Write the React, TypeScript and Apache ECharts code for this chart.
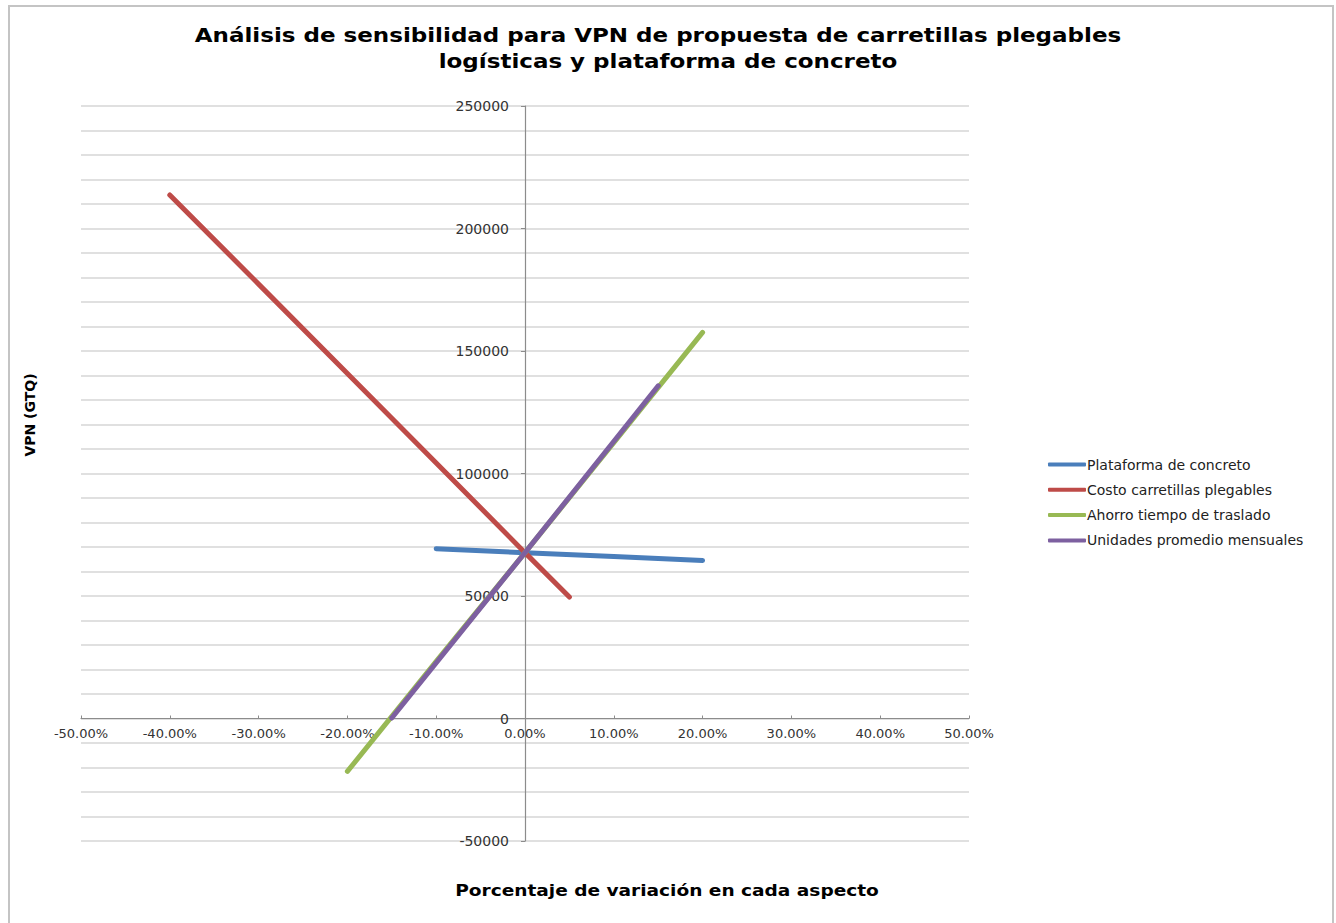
import React, { useEffect, useRef } from "react";
import * as echarts from "echarts";

const titleLines = [
  "Análisis de sensibilidad para VPN de propuesta de carretillas plegables",
  "logísticas y plataforma de concreto",
];
const xAxisName = "Porcentaje de variación en cada aspecto";
const yAxisName = "VPN (GTQ)";

const seriesNames = [
  "Plataforma de concreto",
  "Costo carretillas plegables",
  "Ahorro tiempo de traslado",
  "Unidades promedio mensuales",
];
const seriesColors = ["#4A7EBB", "#BE4B48", "#98B954", "#7D60A0"];

// [variation, VPN]
const plataforma: [number, number][] = [
  [-0.1, 69300],
  [0, 67700],
  [0.1, 66100],
  [0.2, 64500],
];
const costoCarretillas: [number, number][] = [
  [-0.4, 213700],
  [-0.3, 177300],
  [-0.2, 140800],
  [-0.1, 104300],
  [0, 67700],
  [0.05, 49600],
];
const ahorroTiempo: [number, number][] = [
  [-0.2, -21600],
  [-0.1, 23300],
  [0, 67700],
  [0.1, 112600],
  [0.2, 157600],
];
const unidadesPromedio: [number, number][] = [
  [-0.15, 200],
  [0, 67700],
  [0.15, 135800],
];

const FONT = "DejaVu Sans";

export default function App() {
  const ref = useRef<HTMLDivElement>(null);
  useEffect(() => {
    document.body.style.margin = "0";
    const chart = echarts.init(ref.current!, undefined, { renderer: "svg" });
    const data = [plataforma, costoCarretillas, ahorroTiempo, unidadesPromedio];
    const gridTop = 106;
    const gridBottom = 82;
    const gridLeft = 81;
    const gridRight = 367;
    const H = 923 - gridTop - gridBottom;
    const W = 1336 - gridLeft - gridRight;
    const yMin = -50000;
    const yMax = 250000;
    const xMin = -0.5;
    const xMax = 0.5;
    const zeroYOffset = -(H * (0 - yMin)) / (yMax - yMin);
    const zeroXOffset = -(W * (0 - xMin)) / (xMax - xMin);
    chart.setOption({
      animation: false,
      backgroundColor: "#ffffff",
      graphic: [
        {
          type: "rect",
          shape: { x: 9, y: 6, width: 1324, height: 940 },
          style: { fill: "none", stroke: "#c4c4c4", lineWidth: 2 },
          silent: true,
        },
        {
          type: "text",
          x: 658,
          y: 35,
          scaleX: 1.15,
          style: {
            text: titleLines[0],
            fontFamily: FONT,
            fontWeight: "bold",
            fontSize: 20,
            fill: "#000",
            align: "center",
            verticalAlign: "middle",
          },
        },
        {
          type: "text",
          x: 668,
          y: 61,
          scaleX: 1.15,
          style: {
            text: titleLines[1],
            fontFamily: FONT,
            fontWeight: "bold",
            fontSize: 20,
            fill: "#000",
            align: "center",
            verticalAlign: "middle",
          },
        },
        {
          type: "text",
          x: 667,
          y: 890,
          scaleX: 1.16,
          style: {
            text: xAxisName,
            fontFamily: FONT,
            fontWeight: "bold",
            fontSize: 16,
            fill: "#000",
            align: "center",
            verticalAlign: "middle",
          },
        },
        {
          type: "text",
          x: 30,
          y: 415,
          rotation: Math.PI / 2,
          style: {
            text: yAxisName,
            fontFamily: FONT,
            fontWeight: "bold",
            fontSize: 14,
            fill: "#000",
            align: "center",
            verticalAlign: "middle",
          },
        },
      ],
      legend: {
        orient: "vertical",
        left: 1043,
        top: 451,
        icon: "roundRect",
        itemWidth: 38,
        itemHeight: 4,
        itemGap: 8.3,
        data: seriesNames,
        textStyle: {
          fontFamily: FONT,
          fontSize: 14,
          lineHeight: 17,
          color: "#222",
          padding: [0, 0, 0, -4],
        },
      },
      grid: { left: gridLeft, right: gridRight, top: gridTop, bottom: gridBottom },
      xAxis: {
        type: "value",
        min: xMin,
        max: xMax,
        interval: 0.1,
        position: "bottom",
        offset: zeroYOffset,
        axisLine: { onZero: false, lineStyle: { color: "#8c8c8c", width: 1.2 } },
        axisTick: { show: true, inside: true, length: 3, lineStyle: { color: "#8c8c8c" } },
        splitLine: { show: false },
        axisLabel: {
          margin: 8,
          fontFamily: FONT,
          fontSize: 13,
          color: "#333",
          formatter: (v: number) => (v * 100).toFixed(2) + "%",
        },
      },
      yAxis: {
        type: "value",
        min: yMin,
        max: yMax,
        interval: 50000,
        position: "left",
        offset: zeroXOffset,
        axisLine: { show: true, onZero: false, lineStyle: { color: "#8c8c8c", width: 1.2 } },
        axisTick: { show: true, length: 4, lineStyle: { color: "#8c8c8c" } },
        minorTick: { show: false, splitNumber: 5 },
        splitLine: { show: true, lineStyle: { color: "#d6d6d6", width: 1.5 } },
        minorSplitLine: { show: true, lineStyle: { color: "#d6d6d6", width: 1.5 } },
        axisLabel: {
          margin: 16,
          fontFamily: FONT,
          fontSize: 14,
          color: "#333",
          formatter: (v: number) => String(v),
        },
      },
      series: seriesNames.map((name, i) => ({
        name,
        type: "line",
        data: data[i],
        symbol: "none",
        color: seriesColors[i],
        lineStyle: { width: 5, color: seriesColors[i], cap: "round" },
      })),
    });
    return () => chart.dispose();
  }, []);
  return <div ref={ref} style={{ width: 1336, height: 923 }} />;
}
